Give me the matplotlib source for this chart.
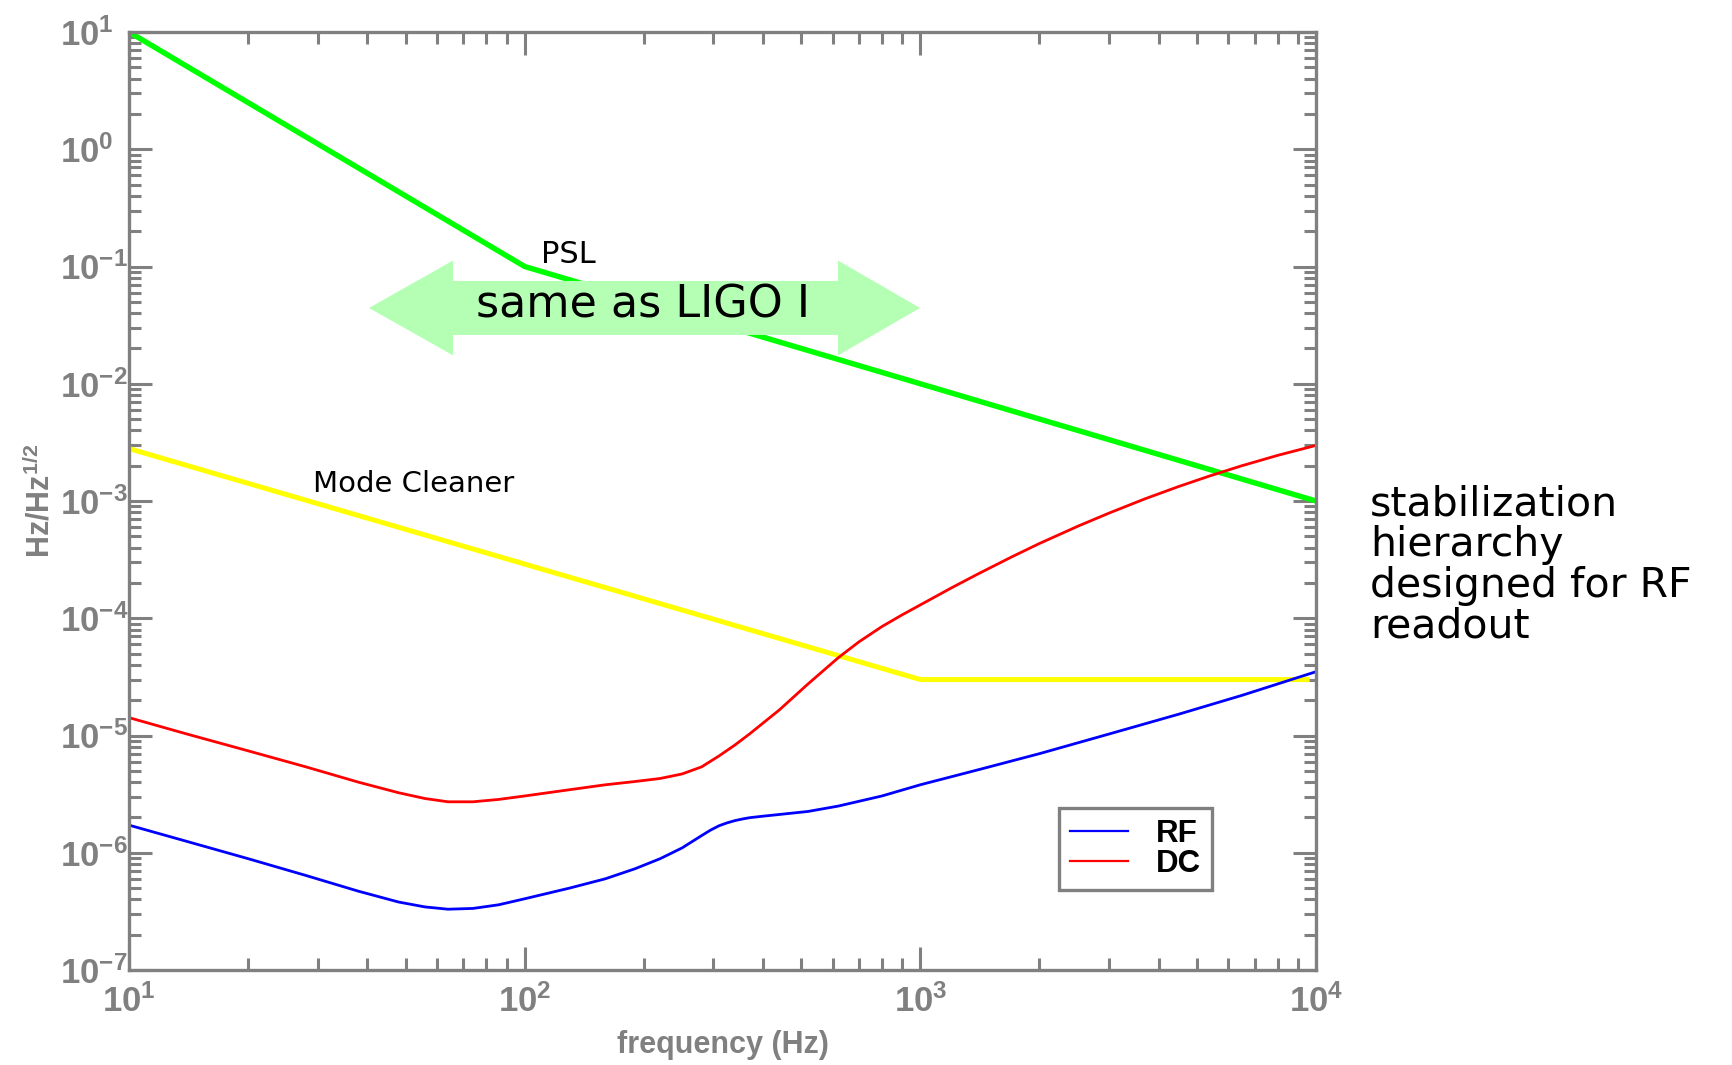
import numpy as np
import matplotlib
matplotlib.use("Agg")
import matplotlib.pyplot as plt
from matplotlib.ticker import LogLocator, FuncFormatter, NullFormatter
from matplotlib.patches import Polygon

# ---------------- data ----------------
psl_freq = [10, 100, 10000]
psl_noise = [10.0, 0.1, 1.0e-3]

mc_freq = [10, 1000, 9500]
mc_noise = [2.8e-3, 3.0e-5, 3.0e-5]

rf_freq = [10, 14, 20, 28, 38, 48, 56, 64, 74, 86, 100, 130, 160, 190, 220, 250,
           280, 295, 310, 325, 340, 355, 370, 400, 440, 520, 620, 800, 1000, 1400,
           2000, 3000, 4500, 6500, 10000]
rf_noise = [1.72e-6, 1.25e-6, 8.9e-7, 6.4e-7, 4.7e-7, 3.8e-7, 3.45e-7, 3.3e-7,
            3.35e-7, 3.6e-7, 4.05e-7, 5.0e-7, 6.0e-7, 7.3e-7, 8.9e-7, 1.1e-6,
            1.4e-6, 1.56e-6, 1.7e-6, 1.8e-6, 1.88e-6, 1.94e-6, 1.99e-6, 2.05e-6,
            2.12e-6, 2.25e-6, 2.5e-6, 3.05e-6, 3.8e-6, 5.1e-6, 7.0e-6, 1.03e-5,
            1.52e-5, 2.2e-5, 3.5e-5]

dc_freq = [10, 14, 20, 28, 38, 48, 56, 64, 74, 86, 100, 130, 160, 190, 220, 250,
           280, 310, 340, 370, 440, 520, 620, 700, 800, 900, 1000, 1200, 1400,
           1700, 2000, 2500, 3000, 3700, 4500, 5400, 6500, 8000, 10000]
dc_noise = [1.42e-5, 1.03e-5, 7.4e-6, 5.4e-6, 4.0e-6, 3.25e-6, 2.9e-6, 2.72e-6,
            2.72e-6, 2.85e-6, 3.05e-6, 3.45e-6, 3.8e-6, 4.05e-6, 4.3e-6, 4.7e-6,
            5.4e-6, 6.7e-6, 8.3e-6, 1.03e-5, 1.65e-5, 2.75e-5, 4.6e-5, 6.3e-5,
            8.5e-5, 1.07e-4, 1.3e-4, 1.82e-4, 2.39e-4, 3.33e-4, 4.34e-4, 6.09e-4,
            7.89e-4, 1.045e-3, 1.33e-3, 1.64e-3, 2.0e-3, 2.45e-3, 2.98e-3]

legend_labels = ["RF", "DC"]
x_ticks = [1e1, 1e2, 1e3, 1e4]
y_ticks = [1e-7, 1e-6, 1e-5, 1e-4, 1e-3, 1e-2, 1e-1, 1e0, 1e1]

# ---------------- style ----------------
plt.rcParams["mathtext.fontset"] = "custom"
plt.rcParams["mathtext.rm"] = "Liberation Sans:bold"
plt.rcParams["mathtext.bf"] = "Liberation Sans:bold"
plt.rcParams["mathtext.it"] = "Liberation Sans:bold"
plt.rcParams["mathtext.sf"] = "Liberation Sans:bold"

GRAY = "#808080"
W, H = 1733, 1065
fig = plt.figure(figsize=(W / 100, H / 100), dpi=100)
ax = fig.add_axes([129 / W, 1 - 970 / H, (1316 - 129) / W, (970 - 32) / H])

ax.plot(psl_freq, psl_noise, color="#00ff00", lw=3.9, zorder=2)
ax.plot(mc_freq, mc_noise, color="#ffff00", lw=3.6, zorder=2)
ax.plot(rf_freq, rf_noise, color="#0000ff", lw=2.0, label=legend_labels[0], zorder=2)
ax.plot(dc_freq, dc_noise, color="#ff0000", lw=2.0, label=legend_labels[1], zorder=2)

ax.set_xscale("log")
ax.set_yscale("log")
ax.set_xlim(10, 1e4)
ax.set_ylim(1e-7, 10)

for sp in ax.spines.values():
    sp.set_color(GRAY)
    sp.set_linewidth(2.4)

fmt = FuncFormatter(lambda v, _: r"$\mathbf{10^{%d}}$" % int(round(np.log10(v))))
ax.xaxis.set_minor_locator(LogLocator(base=10, subs=np.arange(2, 10), numticks=20))
ax.yaxis.set_minor_locator(LogLocator(base=10, subs=np.arange(2, 10), numticks=20))
ax.set_xticks(x_ticks)
ax.set_yticks(y_ticks)
ax.xaxis.set_major_formatter(fmt)
ax.yaxis.set_major_formatter(fmt)
ax.xaxis.set_minor_formatter(NullFormatter())
ax.yaxis.set_minor_formatter(NullFormatter())

ax.tick_params(which="both", direction="in", top=True, right=True,
               color=GRAY, width=2.2, labelcolor=GRAY, labelsize=25)
ax.tick_params(which="major", length=16.5)
ax.tick_params(which="minor", length=8.6)
ax.tick_params(axis="x", which="major", pad=10)
ax.tick_params(axis="y", which="major", pad=50)
for lbl in ax.get_yticklabels():
    lbl.set_horizontalalignment("left")

ax.set_xlabel("frequency (Hz)", fontsize=22, fontweight="bold", color=GRAY,
              family="Liberation Sans")
ax.xaxis.set_label_coords(0.5, -0.064)
ax.set_ylabel(r"Hz/Hz$^{\mathbf{1/2}}$", fontsize=22, fontweight="bold", color=GRAY,
              family="Liberation Sans")
ax.yaxis.set_label_coords(-0.061, 0.5)

leg = ax.legend(loc="upper left", bbox_to_anchor=(0.7835, 0.1727), borderaxespad=0,
                prop={"family": "Liberation Sans", "weight": "bold", "size": 22.5},
                fancybox=False, framealpha=1, edgecolor=GRAY, handlelength=1.85,
                handletextpad=0.9, labelspacing=0.0, borderpad=0.35)
leg.get_frame().set_linewidth(2.4)
for line in leg.get_lines():
    line.set_linewidth(1.6)

# double-headed light green arrow (axes-fraction coordinates)
yc, hs, hh = 0.7058, 0.0288, 0.0506
xl, xlb, xrb, xr = 0.2022, 0.2730, 0.5973, 0.6664
arrow = Polygon([(xl, yc), (xlb, yc + hh), (xlb, yc + hs), (xrb, yc + hs),
                 (xrb, yc + hh), (xr, yc), (xrb, yc - hh), (xrb, yc - hs),
                 (xlb, yc - hs), (xlb, yc - hh)], closed=True,
                transform=ax.transAxes, facecolor="#b4ffb4", edgecolor="none",
                zorder=3)
ax.add_patch(arrow)

fig.text(476 / W, 1 - 318 / H, "same as LIGO I", fontsize=32, color="black",
         ha="left", va="baseline", zorder=5)
fig.text(541 / W, 1 - 263 / H, "PSL", fontsize=22, color="black",
         ha="left", va="baseline")
fig.text(313 / W, 1 - 492 / H, "Mode Cleaner", fontsize=21, color="black",
         ha="left", va="baseline")
fig.text(1370 / W, 1 - 484 / H, "stabilization\nhierarchy\ndesigned for RF\nreadout",
         fontsize=29.5, color="black", ha="left", va="top", linespacing=1.03)

fig.savefig("out.png", dpi=100)
